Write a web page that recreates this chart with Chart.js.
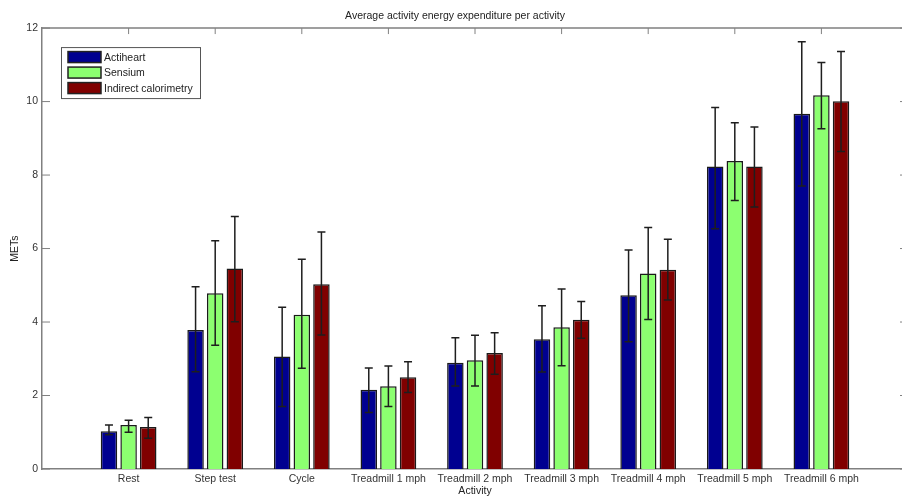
<!DOCTYPE html>
<html>
<head>
<meta charset="utf-8">
<script src="https://cdn.jsdelivr.net/npm/chart.js@4"></script>
<style>
  body { margin: 0; background: #fff; overflow: hidden; }
  #wrap { width: 912px; height: 497px; }
</style>
</head>
<body>
<div id="wrap"><canvas id="chart-space" width="912" height="497"></canvas></div>
<script>
const categories = ['Rest', 'Step test', 'Cycle', 'Treadmill 1 mph', 'Treadmill 2 mph',
  'Treadmill 3 mph', 'Treadmill 4 mph', 'Treadmill 5 mph', 'Treadmill 6 mph'];

const actiheart     = [1.03, 3.78, 3.06, 2.16, 2.89, 3.53, 4.73, 8.23, 9.67];
const actiheartLow  = [0.93, 2.65, 1.70, 1.54, 2.26, 2.64, 3.46, 6.54, 7.70];
const actiheartHigh = [1.20, 4.96, 4.40, 2.75, 3.57, 4.44, 5.96, 9.84, 11.63];

const sensium     = [1.20, 4.78, 4.20, 2.25, 2.96, 3.86, 5.32, 8.38, 10.17];
const sensiumLow  = [1.00, 3.37, 2.74, 1.70, 2.26, 2.81, 4.07, 7.31, 9.26];
const sensiumHigh = [1.33, 6.21, 5.71, 2.80, 3.64, 4.90, 6.57, 9.42, 11.06];

const calorimetry     = [1.14, 5.46, 5.03, 2.50, 3.16, 4.06, 5.42, 8.23, 10.01];
const calorimetryLow  = [0.84, 4.01, 3.65, 2.08, 2.58, 3.56, 4.60, 7.13, 8.64];
const calorimetryHigh = [1.40, 6.87, 6.45, 2.92, 3.71, 4.56, 6.25, 9.31, 11.36];

const yTicks = [0, 2, 4, 6, 8, 10, 12];

// matlab puts a full empty slot either side, so pad the category axis
const pad = arr => [null, ...arr, null];
const labels = ['', ...categories, ''];

const axisColor = '#808080';
const font = "'Liberation Sans', Arial, sans-serif";

// inward ticks + box, like matlab axes
const axesBox = {
  id: 'axesBox',
  beforeDatasetsDraw(chart) {
    const { ctx, chartArea: a, scales } = chart;
    ctx.save();
    ctx.strokeStyle = axisColor;
    ctx.lineWidth = 1.5;
    ctx.beginPath();
    ctx.moveTo(a.left, a.top); ctx.lineTo(a.right, a.top); ctx.lineTo(a.right, a.bottom);
    ctx.stroke();
    ctx.lineWidth = 1;
    yTicks.forEach(v => {
      const y = scales.y.getPixelForValue(v);
      ctx.beginPath();
      ctx.moveTo(a.left, y); ctx.lineTo(a.left + 8, y);
      ctx.moveTo(a.right, y); ctx.lineTo(a.right - 8, y);
      ctx.stroke();
    });
    categories.forEach((c, i) => {
      const x = scales.x.getPixelForValue(i + 1);
      ctx.beginPath();
      ctx.moveTo(x, a.top); ctx.lineTo(x, a.top + 6);
      ctx.moveTo(x, a.bottom); ctx.lineTo(x, a.bottom - 6);
      ctx.stroke();
    });
    ctx.restore();
  }
};

const errorBars = {
  id: 'errorBars',
  afterDatasetsDraw(chart) {
    const { ctx, scales } = chart;
    ctx.save();
    ctx.strokeStyle = '#1e1e1e';
    ctx.lineWidth = 1.5;
    chart.data.datasets.forEach((ds, di) => {
      const meta = chart.getDatasetMeta(di);
      meta.data.forEach((bar, i) => {
        if (ds.data[i] == null) return;
        const lo = scales.y.getPixelForValue(ds.errLow[i]);
        const hi = scales.y.getPixelForValue(ds.errHigh[i]);
        ctx.beginPath();
        ctx.moveTo(bar.x, lo); ctx.lineTo(bar.x, hi);
        ctx.moveTo(bar.x - 4, lo); ctx.lineTo(bar.x + 4, lo);
        ctx.moveTo(bar.x - 4, hi); ctx.lineTo(bar.x + 4, hi);
        ctx.stroke();
      });
    });
    ctx.restore();
  }
};

const boxLegend = {
  id: 'boxLegend',
  afterDraw(chart) {
    const { ctx, chartArea: a } = chart;
    const x0 = a.left + 19, y0 = a.top + 19;
    ctx.save();
    ctx.fillStyle = '#fff';
    ctx.fillRect(x0, y0, 139, 51);
    ctx.strokeStyle = '#555';
    ctx.lineWidth = 1;
    ctx.strokeRect(x0 + 0.5, y0 + 0.5, 139, 51);
    ctx.font = '10.5px ' + font;
    ctx.textBaseline = 'middle';
    chart.data.datasets.forEach((ds, i) => {
      const cy = y0 + 10 + i * 15.5;
      ctx.fillStyle = ds.backgroundColor;
      ctx.fillRect(x0 + 7, cy - 5.5, 33, 11);
      ctx.strokeStyle = '#222';
      ctx.lineWidth = 1.5;
      ctx.strokeRect(x0 + 7, cy - 5.5, 33, 11);
      ctx.fillStyle = '#222';
      ctx.fillText(ds.label, x0 + 43, cy + 1);
    });
    ctx.restore();
  }
};

new Chart(document.getElementById('chart-space'), {
  type: 'bar',
  data: {
    labels: labels,
    datasets: [
      { label: 'Actiheart', data: pad(actiheart), errLow: pad(actiheartLow), errHigh: pad(actiheartHigh),
        backgroundColor: '#000090', borderColor: '#1a1a1a', borderWidth: 1.5 },
      { label: 'Sensium', data: pad(sensium), errLow: pad(sensiumLow), errHigh: pad(sensiumHigh),
        backgroundColor: '#8cff70', borderColor: '#1a1a1a', borderWidth: 1.5 },
      { label: 'Indirect calorimetry', data: pad(calorimetry), errLow: pad(calorimetryLow), errHigh: pad(calorimetryHigh),
        backgroundColor: '#800000', borderColor: '#1a1a1a', borderWidth: 1.5 }
    ]
  },
  options: {
    responsive: false,
    animation: false,
    categoryPercentage: 0.68,
    barPercentage: 0.84,
    layout: { padding: { left: 0, right: 2, top: 0, bottom: 0 } },
    plugins: {
      legend: { display: false },
      tooltip: { enabled: false },
      title: {
        display: true,
        text: 'Average activity energy expenditure per activity',
        color: '#222',
        font: { family: font, size: 10.5, weight: 'normal', lineHeight: 1.15 },
        padding: { top: 10, bottom: 6 }
      }
    },
    scales: {
      x: {
        offset: false,
        grid: { display: false, drawTicks: false },
        border: { color: axisColor, width: 1.5 },
        ticks: { color: '#333', font: { family: font, size: 10.5 }, padding: 4, maxRotation: 0, autoSkip: false },
        title: { display: true, text: 'Activity', color: '#222', font: { family: font, size: 10.5 }, padding: { top: 0, bottom: 0 } },
        afterFit(s) { s.height = 28; }
      },
      y: {
        min: 0, max: 12,
        afterBuildTicks(s) { s.ticks = yTicks.map(v => ({ value: v })); },
        grid: { display: false, drawTicks: false },
        border: { color: axisColor, width: 1.5 },
        ticks: { color: '#333', font: { family: font, size: 10.5 }, padding: 4 },
        title: { display: true, text: 'METs', color: '#222', font: { family: font, size: 10.5 }, padding: { top: 9, bottom: 0 } },
        afterFit(s) { s.width = 42; }
      }
    }
  },
  plugins: [axesBox, errorBars, boxLegend]
});
</script>
</body>
</html>
